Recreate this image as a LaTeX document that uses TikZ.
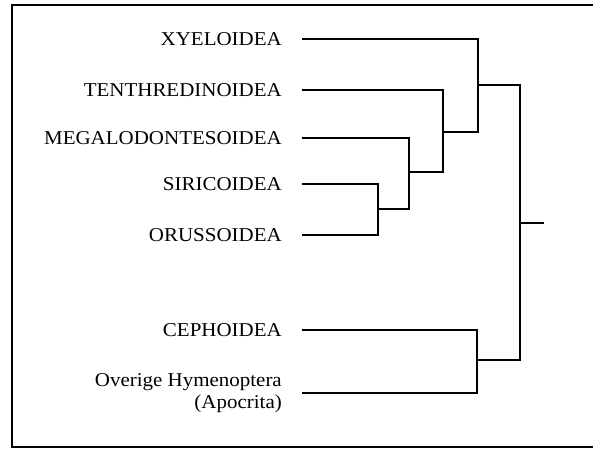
\documentclass[tikz,border=0pt]{standalone}
\usepackage{fontspec}
\setmainfont{Liberation Serif}[FakeStretch=1.07]
\tikzset{
  taxon/.style={anchor=east, inner sep=0pt, align=right, font=\fontsize{19.6}{22.5}\selectfont},
  branch/.style={line width=1.9pt},
  frame/.style={line width=2.2pt}
}
\begin{document}
\begin{tikzpicture}[x=1pt,y=-1pt]
\useasboundingbox (0,0) rectangle (593,449);
\draw[frame] (594,5) -- (12,5) -- (12,447) -- (594,447);
% taxa
\node[taxon] (xye) at (282,39) {XYELOIDEA};
\node[taxon] (ten) at (282,90) {TENTHREDINOIDEA};
\node[taxon] (meg) at (282,138) {MEGALODONTESOIDEA};
\node[taxon] (sir) at (282,184) {SIRICOIDEA};
\node[taxon] (oru) at (282,235) {ORUSSOIDEA};
\node[taxon] (cep) at (282,330) {CEPHOIDEA};
\node[taxon] (ove) at (282,393) {Overige Hymenoptera\\(Apocrita)};
% branch tips
\foreach \t in {xye,ten,meg,sir,oru,cep,ove}
  \coordinate (\t T) at ([xshift=20pt]\t.east);
% internal nodes
\coordinate (nSO) at (378,209);
\coordinate (nM) at (409,172);
\coordinate (nT) at (443,132);
\coordinate (nX) at (478,85);
\coordinate (nC) at (477,360);
\coordinate (nR) at (520,223);
\coordinate (root) at (544,223);
\draw[branch] (sirT) -| (nSO) |- (oruT);
\draw[branch] (megT) -| (nM) |- (nSO);
\draw[branch] (tenT) -| (nT) |- (nM);
\draw[branch] (xyeT) -| (nX) |- (nT);
\draw[branch] (cepT) -| (nC) |- (oveT);
\draw[branch] (nX) -| (nR) |- (nC);
\draw[branch] (nR) -- (root);
\end{tikzpicture}
\end{document}
